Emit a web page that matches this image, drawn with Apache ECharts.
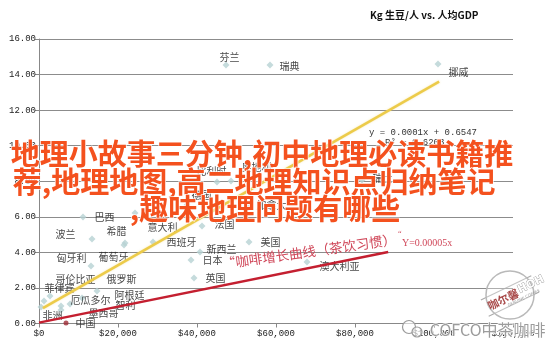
<!DOCTYPE html>
<html><head><meta charset="utf-8">
<script src="https://cdn.jsdelivr.net/npm/echarts@6/dist/echarts.min.js"></script>
<style>html,body{margin:0;padding:0;background:#fff}#c{width:545px;height:355px}</style>
</head><body><div id="c"></div>
<script>
// ---- data ----
const countries = ['芬兰','瑞典','挪威','比利时','奥地利','瑞士','德国','加拿大','意大利','法国','西班牙','美国','新西兰','日本','英国','澳大利亚','波兰','希腊','葡萄牙','巴西','匈牙利','俄罗斯','哥伦比亚','菲律宾','厄瓜多尔','阿根廷','智利','墨西哥','非洲'];
const gdpPerCapita = [47340,58480,101010,45060,48610,81770,37470,52910,24300,41270,28860,53160,40760,38480,39240,67850,13420,21770,21520,11140,13160,14680,2780,1270,5570,10890,7850,5570,510];
const coffeeKgPerPerson = [14.54,14.54,14.6,7.96,8.02,8.07,6.66,6.5,6.21,5.48,4.58,4.58,4.02,3.57,2.56,3.46,4.75,4.53,4.42,5.99,3.23,1.83,1.55,1.27,0.98,1.43,1.10,0.76,0.93];
const chinaName = ['中国'];
const chinaGdp = [6840];
const chinaKg = [0.03];
const teaTrendX = [1000,101300];
const teaTrendY = [0.86,13.6];
const coffeeTrendX = [0,88400];
const coffeeTrendY = [0.05,4.02];
const yTicks = [0,2,4,6,8,10,12,14,16];
const xTicks = [0,20000,40000,60000,80000,100000,120000];

// ---- label layout (pixel offsets, style only) ----
const labelOffset = {
 '芬兰':[-10,-8],'瑞典':[6,1],'挪威':[7,8],'比利时':[-24,-11],'奥地利':[7,-14],'瑞士':[7,-2],
 '德国':[1,-10],'加拿大':[5,-3],'意大利':[9,14],'法国':[9,-2],'西班牙':[10,0],'美国':[8,0],
 '新西兰':[3,-3],'日本':[8,0],'英国':[8,0],'澳大利亚':[9,4],'波兰':[-40,-5],'希腊':[-22,-12],
 '葡萄牙':[-29,12],'巴西':[8,0],'匈牙利':[-38,-8],'俄罗斯':[6,-12],'哥伦比亚':[2,-17],'菲律宾':[-3,-13],
 '厄瓜多尔':[6,-6],'阿根廷':[29,-3],'智利':[42,1],'墨西哥':[24,3],'非洲':[-2,8],'中国':[7,0]
};

const pts = countries.map((n,i)=>({name:n,value:[gdpPerCapita[i],coffeeKgPerPerson[i]],
  label:{offset:labelOffset[n]||[0,0]}}));
const china = chinaName.map((n,i)=>({name:n,value:[chinaGdp[i],chinaKg[i]],label:{offset:labelOffset[n]||[0,0]}}));

const monoFont = 'Liberation Mono';
const labelStyle = {show:true,position:'right',distance:0,formatter:'{b}',color:'#111',fontSize:10,fontFamily:'Noto Sans CJK SC'};

const chart = echarts.init(document.getElementById('c'),null,{renderer:'canvas'});
chart.setOption({
 animation:false,
 backgroundColor:'#fff',
 grid:{left:39,right:32,top:39,bottom:31.5},
 xAxis:{type:'value',min:xTicks[0],max:xTicks[xTicks.length-1],interval:xTicks[1]-xTicks[0],
   axisLine:{show:true,lineStyle:{color:'#888',width:1}},
   axisTick:{show:true,length:4,lineStyle:{color:'#888'}},
   splitLine:{show:false},
   axisLabel:{margin:6,color:'#222',fontSize:9,fontFamily:monoFont,
     formatter:v=>'$'+v.toLocaleString('en-US')}},
 yAxis:{type:'value',min:yTicks[0],max:yTicks[yTicks.length-1],interval:yTicks[1]-yTicks[0],
   axisLine:{show:true,lineStyle:{color:'#888',width:1}},
   axisTick:{show:true,length:4,lineStyle:{color:'#888'}},
   splitLine:{show:true,lineStyle:{color:'#8c8c8c',width:1}},
   axisLabel:{margin:3,color:'#222',fontSize:9,fontFamily:monoFont,formatter:v=>v.toFixed(2)}},
 series:[
  {type:'scatter',data:pts,symbol:'diamond',symbolSize:7,itemStyle:{color:'#b7d2d3'},label:labelStyle,z:3},
  {type:'scatter',data:china,symbol:'circle',symbolSize:5,itemStyle:{color:'#9e2a35'},label:labelStyle,z:3},
  {type:'line',data:teaTrendX.map((x,i)=>[x,teaTrendY[i]]),symbol:'none',
   lineStyle:{color:'#eccb4a',width:2.5,shadowColor:'rgba(240,210,100,0.5)',shadowBlur:2},z:4},
  {type:'line',data:coffeeTrendX.map((x,i)=>[x,coffeeTrendY[i]]),symbol:'none',
   lineStyle:{color:'#c41f30',width:2.5},z:4}
 ],
 graphic:[
  {type:'text',left:370,top:10,style:{text:'Kg 生豆/人 vs. 人均GDP',font:'bold 10px "Noto Sans CJK SC"',fill:'#111'},z:10},
  {type:'text',left:369,top:128,style:{text:'y = 0.0001x + 0.6547',font:'9px "Liberation Mono"',fill:'#333'},z:10},
  {type:'text',left:385,top:138,style:{text:'R² = 0.6203',font:'9px "Liberation Mono"',fill:'#333'},z:10},
  // big overlay caption
  {type:'text',left:10,top:139,style:{text:'地理小故事三分钟,初中地理必读书籍推',font:'bold 29px "Noto Sans CJK SC"',fill:'#f4511e',stroke:'rgba(255,255,255,0.85)',lineWidth:1.5},z:20},
  {type:'text',left:12,top:167,style:{text:'荐,地理地图,高二地理知识点归纳笔记',font:'bold 29px "Noto Sans CJK SC"',fill:'#f4511e',stroke:'rgba(255,255,255,0.85)',lineWidth:1.5},z:20},
  {type:'text',left:129,top:194,style:{text:',趣味地理问题有哪些',font:'bold 29px "Noto Sans CJK SC"',fill:'#f4511e',stroke:'rgba(255,255,255,0.85)',lineWidth:1.5},z:20},
  // handwritten annotation
  {type:'text',x:309,y:251.5,rotation:0.14,style:{text:'“咖啡增长曲线（茶饮习惯）',font:'13.5px "Noto Sans CJK SC"',fill:'#d0485a',align:'center',verticalAlign:'middle'},z:15},
  {type:'text',x:398,y:230,style:{text:'“',font:'8px "Liberation Serif"',fill:'#d0485a'},z:15},
  {type:'text',x:402,y:238,style:{text:'Y=0.00005x',font:'10px "Liberation Serif"',fill:'#d0485a'},z:15},
  // stamp watermark
  {type:'circle',shape:{cx:510,cy:295,r:24},style:{fill:'rgba(255,255,255,0.3)',stroke:'#b9b9b9',lineWidth:1.5},z:15},
  {type:'group',x:510,y:296,rotation:0.45,z:16,children:[
    {type:'line',shape:{x1:-28,y1:-9,x2:28,y2:-9},style:{stroke:'#aaa',lineWidth:1}},
    {type:'line',shape:{x1:-28,y1:9,x2:28,y2:9},style:{stroke:'#aaa',lineWidth:1}},
    {type:'text',x:-24,y:0,style:{text:'咖尔馨',font:'bold 11px "Noto Sans CJK SC"',fill:'#a84848',verticalAlign:'middle'},z:16},
    {type:'text',x:10,y:-1,style:{text:'HOH',font:'bold 11px "DejaVu Sans"',fill:'#fff',stroke:'#999',lineWidth:0.8,verticalAlign:'middle'},z:16},
    {type:'text',x:-6,y:6,style:{text:'GENUINE COFFEE',font:'4px "DejaVu Sans"',fill:'#999'},z:16}
  ]},
  // wechat style signature
  {type:'circle',shape:{cx:409,cy:327,r:6.5},style:{fill:'rgba(255,255,255,0.6)',stroke:'#9a9a9a',lineWidth:1.2},z:15},
  {type:'circle',shape:{cx:417,cy:332,r:5},style:{fill:'rgba(255,255,255,0.6)',stroke:'#9a9a9a',lineWidth:1.2},z:15},
  {type:'text',left:429,top:321,style:{text:'COFCO中茶咖啡',font:'16px "Noto Sans CJK SC"',fill:'#9c9c9c',stroke:'rgba(255,255,255,0.9)',lineWidth:1.5},z:15}
 ]
});
</script></body></html>
